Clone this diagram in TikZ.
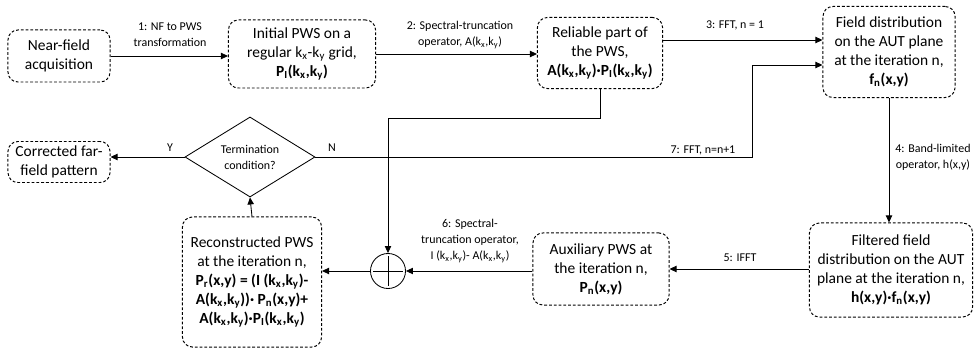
\documentclass[tikz,border=0pt]{standalone}
\usepackage{fontspec}
\setmainfont{Carlito}
\usetikzlibrary{shapes.geometric,arrows.meta,calc}
\newcommand{\sbs}[1]{\textsubscript{#1}}
\tikzset{
  box/.style={draw, line width=0.7pt, dash pattern=on 2pt off 1.4pt, rounded corners=7pt,
    align=center, font=\fontsize{11}{13.5}\selectfont, inner sep=2pt},
  dec/.style={draw, line width=0.6pt, diamond, aspect=1.625, inner sep=0pt,
    minimum width=3.25cm, minimum height=2cm, align=center, font=\fontsize{8.5}{11.5}\selectfont},
  sum/.style={draw, line width=0.6pt, circle, minimum size=0.875cm, inner sep=0pt,
    path picture={\draw[line width=0.6pt] ($(path picture bounding box.north)!0.08!(path picture bounding box.south)$)
      -- ($(path picture bounding box.north)!0.92!(path picture bounding box.south)$)
      ($(path picture bounding box.west)!0.08!(path picture bounding box.east)$)
      -- ($(path picture bounding box.west)!0.92!(path picture bounding box.east)$);}},
  arr/.style={-{Triangle[length=5pt,width=4.5pt]}, line width=0.6pt},
  line/.style={line width=0.6pt},
  lab/.style={align=center, font=\fontsize{8.5}{11.5}\selectfont, inner sep=0pt}
}

\begin{document}
\begin{tikzpicture}[x=0.025cm, y=-0.025cm]
  \useasboundingbox (0,0) rectangle (976,348);

  % top row
  \node[box, minimum width=2.55cm, minimum height=1.3cm] (nf) at (59,56) {Near-field\\acquisition};
  \node[box, minimum width=3.675cm, minimum height=1.7cm] (ipws) at (302,54)
    {Initial PWS on a\\regular k\sbs{x}-k\sbs{y} grid,\\\textbf{P\sbs{I}(k\sbs{x},k\sbs{y})}};
  \node[box, minimum width=3.125cm, minimum height=1.775cm] (rel) at (600,53)
    {Reliable part of\\the PWS,\\\textbf{A(k\sbs{x},k\sbs{y})·P\sbs{I}(k\sbs{x},k\sbs{y})}};
  \node[box, minimum width=3.3cm, minimum height=2.275cm] (fd) at (889,52)
    {Field distribution\\on the AUT plane\\at the iteration n,\\\textbf{f\sbs{n}(x,y)}};

  % middle row
  \node[box, minimum width=2.55cm, minimum height=1.025cm] (cor) at (59,162) {Corrected far-\\field pattern};
  \node[dec] (dia) at (250,157) {Termination\\condition?};

  % bottom row
  \node[box, minimum width=3.475cm, minimum height=3.25cm] (rec) at (252,282)
    {Reconstructed PWS\\at the iteration n,\\\textbf{P\sbs{r}(x,y) = (I (k\sbs{x},k\sbs{y})-}\\
     \textbf{A(k\sbs{x},k\sbs{y}))· P\sbs{n}(x,y)+}\\\textbf{A(k\sbs{x},k\sbs{y})·P\sbs{I}(k\sbs{x},k\sbs{y})}};
  \node[sum] (plus) at (388,271) {};
  \node[box, minimum width=3.4cm, minimum height=1.8cm] (aux) at (601,269)
    {Auxiliary PWS at\\the iteration n,\\\textbf{P\sbs{n}(x,y)}};
  \node[box, minimum width=4.075cm, minimum height=2.35cm] (flt) at (891,270)
    {Filtered field\\distribution on the AUT\\plane at the iteration n,\\\textbf{h(x,y)·f\sbs{n}(x,y)}};

  \coordinate (relturn) at (rel.south |- 0,118);
  \coordinate (loopup) at (752,157);

  % connectors
  \draw[arr] (nf.east) -- (nf.east -| ipws.west);
  \draw[arr] (ipws.east) -- (ipws.east -| rel.west);
  \draw[arr] (rel.east |- 0,40) -- (fd.west |- 0,40);
  \draw[arr] (fd.south) -- (fd.south |- flt.north);
  \draw[arr] (flt.west |- aux.east) -- (aux.east);
  \draw[arr] (aux.west |- plus.east) -- (plus.east);
  \draw[arr] (plus.west) -- (plus.west -| rec.east);
  \draw[arr] (rec.north) -- (dia.south);
  \draw[arr] (dia.west) -- (dia.west -| cor.east);
  \draw[arr] (dia.east) -- (loopup) -- (loopup |- 0,65) -- (fd.west |- 0,65);
  \draw[arr] (rel.south) -- (relturn) -- (plus.north |- relturn) -- (plus.north);

  % labels
  \node[lab] (l1) at (170,35) {1: NF to PWS\\transformation};
  \node[lab] (l2) at (460,35) {2: Spectral-truncation\\operator, A(k\sbs{x},k\sbs{y})};
  \node[lab] (l3) at (735,25) {3: FFT, n = 1};
  \node[lab] (l4) at (933,157) {4: Band-limited\\operator, h(x,y)};
  \node[lab] (l5) at (740,258) {5: IFFT};
  \node[lab] (l6) at (470,241) {6: Spectral-\\truncation operator,\\I (k\sbs{x},k\sbs{y})- A(k\sbs{x},k\sbs{y})};
  \node[lab] (l7) at (703,150) {7: FFT, n=n+1};
  \node[lab] (ly) at (170,148) {Y};
  \node[lab] (ln) at (332,148) {N};
\end{tikzpicture}
\end{document}
